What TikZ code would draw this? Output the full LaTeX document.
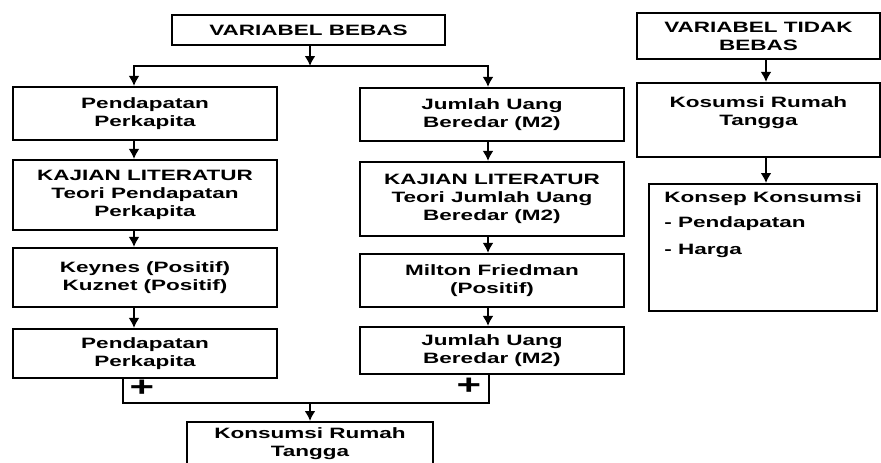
\documentclass[tikz,border=0pt]{standalone}
\usepackage{fontspec}
\setmainfont{Liberation Sans}[FakeStretch=1.5]
\usetikzlibrary{arrows.meta}

\begin{document}
\begin{tikzpicture}[x = 1pt, y = -1pt, font = {\fontsize{15pt}{18pt}\selectfont\bfseries},
	box/.style = {draw, line width = 2.2pt, align = center, inner sep = 2pt},
	arr/.style = {line width = 2pt, -{Latex[length = 10pt, width = 11pt]}},
	lin/.style = {line width = 2pt},
	plus/.style = {font = {\fontsize{28pt}{28pt}\selectfont\bfseries}, inner sep = 0pt}]
\clip (0,0) rectangle (881,463);
\fill[white] (0,0) rectangle (881,463);

% kolom variabel bebas
\node[box, minimum width = 273pt, minimum height = 30pt] (VB) at (308.5, 30) {VARIABEL BEBAS};

\node[box, minimum width = 264pt, minimum height = 53pt] (PP1) at (145, 113.5) {Pendapatan \\ Perkapita};
\node[box, minimum width = 264pt, minimum height = 70pt] (KL1) at (145, 195) {KAJIAN LITERATUR \\ Teori Pendapatan \\ Perkapita};
\node[box, minimum width = 264pt, minimum height = 59pt] (KEY) at (145, 277.5) {Keynes (Positif) \\ Kuznet (Positif)};
\node[box, minimum width = 264pt, minimum height = 49pt] (PP2) at (145, 353.5) {Pendapatan \\ Perkapita};

\node[box, minimum width = 264pt, minimum height = 53pt] (JUB1) at (492, 114.5) {Jumlah Uang \\ Beredar (M2)};
\node[box, minimum width = 264pt, minimum height = 74pt] (KL2) at (492, 199) {KAJIAN LITERATUR \\ Teori Jumlah Uang \\ Beredar (M2)};
\node[box, minimum width = 264pt, minimum height = 53pt] (MF) at (492, 280.5) {Milton Friedman \\ (Positif)};
\node[box, minimum width = 264pt, minimum height = 47pt] (JUB2) at (492, 350.5) {Jumlah Uang \\ Beredar (M2)};

\node[box, minimum width = 246pt, minimum height = 70pt, anchor = north, text depth = 30pt] (KRT) at (310, 421) {Konsumsi Rumah \\ Tangga};

% kolom variabel tidak bebas
\node[box, minimum width = 243pt, minimum height = 46pt] (VTB) at (758.5, 36) {VARIABEL TIDAK \\ BEBAS};
\node[box, minimum width = 243pt, minimum height = 74pt, text depth = 18pt] (KOS) at (758.5, 120) {Kosumsi Rumah \\ Tangga};
\node[box, minimum width = 228pt, minimum height = 114pt, anchor = north west, align = left, inner xsep = 14pt, inner ysep = 8pt, text depth = 48pt] (KK) at (648, 183) {Konsep Konsumsi \\[7pt] - Pendapatan \\[9pt] - Harga};

\coordinate (C1) at (134, 0);
\coordinate (C2) at (488, 0);
\coordinate (C3) at (766, 0);
\coordinate (SPLIT) at (310, 66);
\coordinate (JOIN) at (310, 403);
\coordinate (B1) at (123, 0);
\coordinate (B2) at (489, 0);

\node[plus] (PL1) at (142, 388) {+};
\node[plus] (PL2) at (469, 386) {+};

\draw[arr] (VB.south -| SPLIT) -- (SPLIT);
\draw[arr] (SPLIT) -| (C1 |- PP1.north);
\draw[arr] (SPLIT) -| (C2 |- JUB1.north);

\draw[arr] (C1 |- PP1.south) -- (C1 |- KL1.north);
\draw[arr] (C1 |- KL1.south) -- (C1 |- KEY.north);
\draw[arr] (C1 |- KEY.south) -- (C1 |- PP2.north);

\draw[arr] (C2 |- JUB1.south) -- (C2 |- KL2.north);
\draw[arr] (C2 |- KL2.south) -- (C2 |- MF.north);
\draw[arr] (C2 |- MF.south) -- (C2 |- JUB2.north);

\draw[lin] (B1 |- PP2.south) |- (B2 |- JOIN) -- (B2 |- JUB2.south);
\draw[arr] (JOIN) -- (KRT.north);

\draw[arr] (C3 |- VTB.south) -- (C3 |- KOS.north);
\draw[arr] (C3 |- KOS.south) -- (C3 |- KK.north);
\end{tikzpicture}
\end{document}
